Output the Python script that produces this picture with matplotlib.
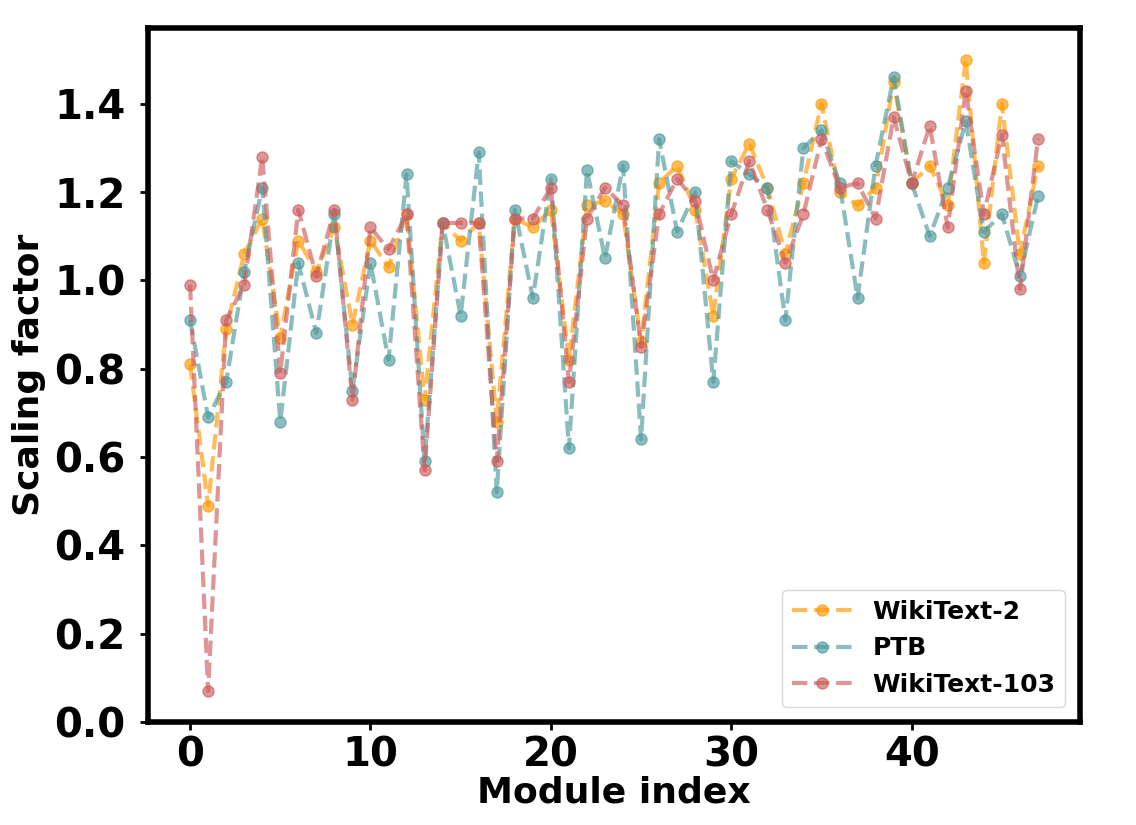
import matplotlib.pyplot as plt
import numpy as np

# scaling factor per module
wikitext2 = [0.81, 0.49, 0.89, 1.06, 1.14, 0.87, 1.09, 1.02, 1.12, 0.90,
             1.09, 1.03, 1.15, 0.73, 1.13, 1.09, 1.13, 0.68, 1.14, 1.12,
             1.16, 0.82, 1.17, 1.18, 1.15, 0.86, 1.22, 1.26, 1.16, 0.92,
             1.23, 1.31, 1.21, 1.06, 1.22, 1.40, 1.20, 1.17, 1.21, 1.45,
             1.22, 1.26, 1.17, 1.50, 1.04, 1.40, 1.06, 1.26]
ptb = [0.91, 0.69, 0.77, 1.02, 1.21, 0.68, 1.04, 0.88, 1.15, 0.75,
       1.04, 0.82, 1.24, 0.59, 1.13, 0.92, 1.29, 0.52, 1.16, 0.96,
       1.23, 0.62, 1.25, 1.05, 1.26, 0.64, 1.32, 1.11, 1.20, 0.77,
       1.27, 1.24, 1.21, 0.91, 1.30, 1.34, 1.22, 0.96, 1.26, 1.46,
       1.22, 1.10, 1.21, 1.36, 1.11, 1.15, 1.01, 1.19]
wikitext103 = [0.99, 0.07, 0.91, 0.99, 1.28, 0.79, 1.16, 1.01, 1.16, 0.73,
               1.12, 1.07, 1.15, 0.57, 1.13, 1.13, 1.13, 0.59, 1.14, 1.14,
               1.21, 0.77, 1.14, 1.21, 1.17, 0.85, 1.15, 1.23, 1.18, 1.00,
               1.15, 1.27, 1.16, 1.04, 1.15, 1.32, 1.21, 1.22, 1.14, 1.37,
               1.22, 1.35, 1.12, 1.43, 1.15, 1.33, 0.98, 1.32]

x = np.arange(len(wikitext2))

fig, ax = plt.subplots(figsize=(11.36, 8.25), dpi=100)
plt.subplots_adjust(left=0.13, right=0.951, bottom=0.125, top=0.966)

style = dict(linestyle='--', marker='o', linewidth=3, markersize=8, alpha=0.65)
ax.plot(x, wikitext2, color='#FF9900', label='WikiText-2', **style)
ax.plot(x, ptb, color='#4F9A9C', label='PTB', **style)
ax.plot(x, wikitext103, color='#CD5C5C', label='WikiText-103', **style)

ax.set_ylim(bottom=0)
ax.set_yticks(np.arange(0, 1.41, 0.2))
ax.set_xlabel('Module index', fontsize=26, fontweight='bold', labelpad=0)
ax.set_ylabel('Scaling factor', fontsize=26, fontweight='bold', labelpad=6)
ax.tick_params(labelsize=29, width=2, length=6)
ax.tick_params(axis='y', pad=10)
for lbl in ax.get_xticklabels() + ax.get_yticklabels():
    lbl.set_fontweight('bold')
for sp in ax.spines.values():
    sp.set_linewidth(4)

ax.legend(loc='lower right', prop={'weight': 'bold', 'size': 18},
          handlelength=2.4, borderaxespad=0.6)

plt.savefig('out.png')
